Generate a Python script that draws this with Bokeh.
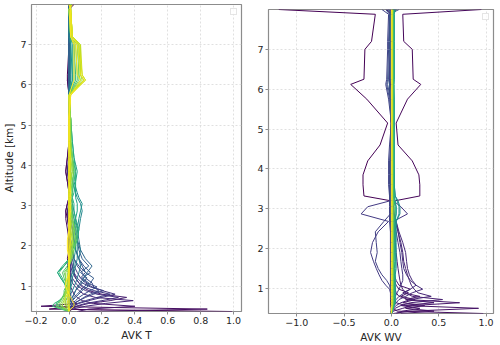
from bokeh.plotting import figure
from bokeh.models import Range1d, FixedTicker, Legend, LegendItem, CustomJSTickFormatter
from bokeh.palettes import Viridis256
from bokeh.embed import file_html
from bokeh.resources import INLINE

# ---------------- data ----------------
alt_km = [0.37, 0.43, 0.50, 0.57, 0.64, 0.72, 0.80, 0.89, 0.98, 1.08,
          1.20, 1.34, 1.50, 1.68, 1.90, 2.15, 2.42, 2.68, 2.87, 3.05,
          3.20, 3.32, 3.60, 3.85, 4.20, 4.60, 5.15, 5.75, 6.12, 6.25,
          7.00, 7.20, 7.88, 8.00]
n_retrieval_levels = 60

# AVK T: one kernel per retrieval level (row), values at alt_km
t_row_level = [0, 2, 4, 5, 6, 8, 9, 10, 12, 13, 14, 16, 17, 18, 20, 24, 27, 30, 34, 37, 40, 43, 46, 48, 50, 52, 54, 56, 57, 58, 59]
avk_t_rows = [
    [0.99, -0.12, 0.04, 0.02, 0.01, 0.01, 0.00, 0.00, 0.00, 0.00, 0.00, 0.00, 0.00, -0.01, 0.00, 0.00, 0.00, -0.01, -0.02, -0.01, 0.00, 0.00, -0.01, -0.02, -0.01, 0.00, 0.00, 0.00, -0.01, -0.01, 0.00, 0.00, 0.00, 0.03],
    [0.06, 0.84, -0.17, 0.05, 0.02, 0.01, 0.01, 0.00, 0.00, 0.00, 0.00, 0.00, -0.01, 0.00, 0.00, 0.00, -0.01, -0.02, -0.02, -0.01, 0.00, 0.00, -0.01, -0.02, -0.01, 0.00, 0.00, 0.00, -0.01, 0.00, 0.00, 0.00, 0.00, 0.02],
    [0.05, 0.12, 0.40, 0.15, 0.08, 0.05, 0.03, 0.02, 0.01, 0.01, 0.01, 0.00, 0.00, 0.00, 0.00, 0.00, 0.00, -0.01, -0.01, 0.00, 0.00, 0.00, 0.00, -0.01, 0.00, 0.00, 0.00, 0.00, 0.00, 0.00, 0.00, 0.00, 0.01, 0.01],
    [0.00, 0.01, 0.05, 0.12, 0.25, 0.35, 0.20, 0.12, 0.08, 0.06, 0.04, 0.03, 0.02, 0.01, 0.00, 0.00, 0.00, 0.00, 0.00, 0.00, 0.00, 0.00, 0.00, 0.00, 0.00, 0.00, 0.00, 0.00, 0.00, 0.00, 0.00, 0.00, 0.00, 0.01],
    [0.00, 0.02, 0.10, 0.22, 0.39, 0.16, 0.09, 0.06, 0.04, 0.02, 0.01, 0.01, 0.00, 0.00, 0.00, 0.00, 0.00, 0.00, -0.01, 0.00, 0.00, 0.00, 0.00, -0.01, 0.00, 0.00, 0.00, 0.00, 0.00, 0.00, 0.00, 0.00, 0.00, 0.01],
    [0.00, 0.01, 0.04, 0.10, 0.20, 0.30, 0.17, 0.10, 0.06, 0.04, 0.02, 0.01, 0.01, 0.00, 0.00, 0.00, 0.00, 0.00, 0.00, 0.00, 0.00, 0.00, 0.00, -0.01, 0.00, 0.00, 0.00, 0.00, 0.00, 0.00, 0.00, 0.00, 0.00, 0.01],
    [0.00, 0.00, 0.02, 0.06, 0.12, 0.20, 0.28, 0.20, 0.14, 0.10, 0.07, 0.05, 0.03, 0.02, 0.01, 0.00, 0.00, 0.00, 0.00, 0.00, 0.00, 0.00, 0.00, 0.00, 0.00, 0.00, 0.00, 0.00, 0.00, 0.00, 0.00, 0.00, 0.00, 0.00],
    [0.00, 0.00, 0.02, 0.05, 0.10, 0.17, 0.25, 0.15, 0.09, 0.06, 0.04, 0.02, 0.01, 0.01, 0.00, 0.00, 0.00, 0.00, 0.00, 0.00, 0.00, 0.00, 0.00, 0.00, 0.00, 0.00, 0.00, 0.00, 0.00, 0.00, 0.00, 0.00, 0.00, 0.00],
    [0.00, 0.00, 0.01, 0.03, 0.06, 0.10, 0.15, 0.21, 0.13, 0.08, 0.05, 0.03, 0.02, 0.01, 0.01, 0.00, 0.00, 0.00, 0.00, 0.00, 0.00, 0.00, 0.00, 0.00, 0.00, 0.00, 0.00, 0.00, 0.00, 0.00, 0.00, 0.00, 0.00, 0.00],
    [0.00, 0.00, 0.01, 0.03, 0.06, 0.09, 0.13, 0.18, 0.15, 0.14, 0.10, 0.08, 0.05, 0.03, 0.02, 0.01, 0.00, 0.00, 0.00, 0.00, 0.00, 0.00, 0.00, 0.00, 0.00, 0.00, 0.00, 0.00, 0.00, 0.00, 0.00, 0.00, 0.00, 0.00],
    [0.00, 0.00, 0.00, 0.02, 0.04, 0.06, 0.09, 0.13, 0.17, 0.11, 0.07, 0.10, 0.06, 0.03, 0.02, 0.01, 0.01, 0.00, 0.00, 0.00, 0.00, 0.00, 0.00, 0.00, 0.00, 0.00, 0.00, 0.00, 0.00, 0.00, 0.00, 0.00, 0.00, 0.00],
    [0.00, 0.00, 0.00, 0.01, 0.02, 0.03, 0.05, 0.07, 0.09, 0.12, 0.08, 0.13, 0.09, 0.06, 0.04, 0.03, 0.02, 0.01, 0.01, 0.00, 0.00, 0.00, 0.00, 0.00, 0.00, 0.00, 0.00, 0.00, 0.00, 0.00, 0.00, 0.00, 0.00, 0.00],
    [0.00, 0.00, 0.00, 0.01, 0.02, 0.04, 0.06, 0.08, 0.11, 0.13, 0.15, 0.10, 0.08, 0.06, 0.04, 0.03, 0.02, 0.01, 0.00, 0.00, 0.00, 0.00, 0.00, 0.00, 0.00, 0.00, 0.00, 0.00, 0.00, 0.00, 0.00, 0.00, 0.00, 0.00],
    [0.00, 0.00, 0.00, 0.00, 0.01, 0.02, 0.03, 0.04, 0.06, 0.08, 0.11, 0.07, 0.12, 0.08, 0.06, 0.05, 0.04, 0.03, 0.02, 0.01, 0.01, 0.00, 0.00, 0.00, 0.00, 0.00, 0.00, 0.00, 0.00, 0.00, 0.00, 0.00, 0.00, 0.00],
    [0.00, 0.00, 0.00, 0.00, 0.01, 0.02, 0.03, 0.04, 0.05, 0.07, 0.09, 0.11, 0.14, 0.10, 0.07, 0.05, 0.03, 0.02, 0.01, 0.00, 0.00, 0.00, 0.00, 0.00, 0.00, 0.00, 0.00, 0.00, 0.00, 0.00, 0.00, 0.00, 0.00, 0.00],
    [0.00, 0.00, 0.00, 0.00, 0.00, 0.01, 0.01, 0.02, 0.03, 0.04, 0.05, 0.06, 0.07, 0.06, 0.07, 0.06, 0.05, 0.04, 0.03, 0.02, 0.01, 0.01, 0.01, 0.00, 0.00, 0.00, 0.00, 0.00, 0.01, 0.01, 0.01, 0.00, 0.00, 0.01],
    [0.00, 0.00, 0.00, 0.00, 0.00, 0.00, 0.00, 0.01, 0.01, 0.02, 0.02, 0.03, 0.04, 0.05, 0.05, 0.05, 0.06, 0.07, 0.08, 0.07, 0.05, 0.04, 0.02, 0.01, 0.01, 0.00, 0.00, 0.00, 0.01, 0.01, 0.01, 0.00, 0.00, 0.01],
    [0.00, 0.00, 0.00, 0.00, 0.00, 0.00, 0.00, 0.00, 0.01, 0.01, 0.01, 0.02, 0.03, 0.03, 0.04, 0.04, 0.05, 0.06, 0.07, 0.08, 0.06, 0.05, 0.03, 0.03, 0.02, 0.01, 0.01, 0.00, 0.02, 0.02, 0.01, 0.01, 0.00, 0.01],
    [0.00, 0.00, -0.01, -0.02, -0.02, -0.01, 0.00, 0.00, -0.01, -0.03, -0.05, -0.07, -0.03, 0.01, 0.02, 0.03, 0.03, 0.04, 0.05, 0.05, 0.04, 0.04, 0.04, 0.05, 0.03, 0.02, 0.01, 0.00, 0.02, 0.02, 0.02, 0.01, 0.00, 0.01],
    [0.00, -0.02, -0.05, -0.08, -0.06, -0.04, -0.02, -0.01, -0.01, -0.03, -0.05, -0.07, -0.04, 0.00, 0.02, 0.05, 0.06, 0.04, 0.03, 0.03, 0.02, 0.03, 0.04, 0.04, 0.03, 0.02, 0.01, 0.00, 0.03, 0.03, 0.03, 0.01, 0.00, 0.01],
    [0.00, -0.05, -0.10, -0.09, -0.06, -0.04, -0.03, -0.02, -0.02, -0.03, -0.04, -0.06, -0.03, 0.00, 0.02, 0.04, 0.05, 0.03, 0.02, 0.02, 0.02, 0.02, 0.03, 0.04, 0.02, 0.01, 0.01, 0.00, 0.04, 0.04, 0.03, 0.01, 0.00, 0.01],
    [0.00, -0.04, -0.08, -0.07, -0.05, -0.04, -0.03, -0.03, -0.02, -0.02, -0.03, -0.04, -0.01, 0.01, 0.03, 0.05, 0.04, 0.02, 0.02, 0.01, 0.01, 0.02, 0.02, 0.03, 0.02, 0.01, 0.01, 0.00, 0.05, 0.05, 0.04, 0.01, 0.00, 0.01],
    [0.00, -0.03, -0.07, -0.06, -0.05, -0.04, -0.03, -0.02, -0.02, -0.02, -0.02, -0.03, 0.00, 0.02, 0.03, 0.04, 0.03, 0.02, 0.01, 0.01, 0.01, 0.01, 0.02, 0.03, 0.02, 0.01, 0.01, 0.00, 0.06, 0.06, 0.05, 0.01, 0.00, 0.01],
    [0.00, -0.02, -0.05, -0.05, -0.04, -0.03, -0.03, -0.02, -0.02, -0.02, -0.02, -0.02, 0.00, 0.01, 0.02, 0.03, 0.03, 0.02, 0.01, 0.01, 0.01, 0.01, 0.01, 0.02, 0.02, 0.01, 0.01, 0.00, 0.07, 0.06, 0.06, 0.02, 0.01, 0.01],
    [0.00, -0.01, -0.04, -0.04, -0.03, -0.03, -0.02, -0.02, -0.01, -0.01, -0.01, -0.01, 0.00, 0.01, 0.02, 0.02, 0.02, 0.01, 0.01, 0.01, 0.01, 0.01, 0.01, 0.02, 0.01, 0.01, 0.01, 0.00, 0.08, 0.07, 0.06, 0.02, 0.01, 0.01],
    [0.00, 0.00, -0.02, -0.03, -0.03, -0.02, -0.02, -0.01, -0.01, -0.01, -0.01, 0.00, 0.00, 0.01, 0.01, 0.02, 0.01, 0.01, 0.01, 0.00, 0.00, 0.01, 0.01, 0.01, 0.01, 0.01, 0.00, 0.00, 0.09, 0.07, 0.07, 0.02, 0.01, 0.01],
    [0.00, 0.00, -0.01, -0.02, -0.02, -0.02, -0.01, -0.01, -0.01, 0.00, 0.00, 0.00, 0.00, 0.00, 0.01, 0.01, 0.01, 0.01, 0.00, 0.00, 0.00, 0.00, 0.01, 0.01, 0.01, 0.00, 0.00, 0.00, 0.10, 0.08, 0.07, 0.02, 0.01, 0.01],
    [0.00, 0.00, 0.00, -0.01, -0.01, -0.01, -0.01, 0.00, 0.00, 0.00, 0.00, 0.00, 0.00, 0.00, 0.00, 0.01, 0.00, 0.00, 0.00, 0.00, 0.00, 0.00, 0.00, 0.00, 0.01, 0.00, 0.00, 0.01, 0.10, 0.08, 0.06, 0.02, 0.01, 0.00],
    [0.00, 0.00, 0.00, 0.00, 0.00, 0.00, 0.00, 0.00, 0.00, 0.00, 0.00, 0.00, 0.00, 0.00, 0.00, 0.00, 0.00, 0.00, 0.00, 0.00, 0.00, 0.00, 0.00, 0.00, 0.00, 0.00, 0.00, 0.01, 0.09, 0.07, 0.05, 0.02, 0.01, 0.00],
    [0.00, 0.00, 0.00, 0.00, 0.00, 0.00, 0.00, 0.00, 0.00, 0.00, 0.00, 0.00, 0.00, 0.00, 0.00, 0.00, 0.00, 0.00, 0.00, 0.00, 0.00, 0.00, 0.00, 0.00, 0.00, 0.00, 0.00, 0.01, 0.07, 0.05, 0.04, 0.01, 0.01, 0.00],
    [0.00, 0.01, 0.03, 0.03, 0.02, 0.01, 0.00, -0.01, -0.02, -0.02, -0.01, 0.00, 0.00, 0.00, -0.01, -0.01, 0.00, 0.00, 0.01, 0.01, 0.01, 0.01, 0.00, 0.00, 0.00, 0.00, 0.00, 0.00, 0.03, 0.03, 0.03, 0.01, 0.00, 0.02],
]

# AVK WV
wv_row_level = [0, 1, 2, 3, 3, 4, 4, 5, 6, 7, 8, 9, 10, 11, 12, 13, 15, 18, 22, 26, 30, 34, 38, 42, 46, 50, 55, 59]
avk_wv_rows = [
    [0.00, 0.00, 0.00, -0.01, -0.01, -0.01, -0.01, -0.01, -0.01, -0.01, -0.01, -0.01, -0.01, -0.01, -0.01, -0.01, -0.01, -0.01, -0.01, -0.01, -0.01, -0.29, -0.30, -0.30, -0.25, -0.12, -0.04, -0.26, -0.43, -0.29, -0.28, -0.21, -0.17, -1.19],
    [0.00, 0.00, 0.01, 0.01, 0.01, 0.01, 0.01, 0.01, 0.01, 0.01, 0.01, 0.01, 0.01, 0.01, 0.01, 0.01, 0.01, 0.01, 0.01, 0.02, 0.04, 0.30, 0.30, 0.29, 0.22, 0.07, 0.05, 0.17, 0.31, 0.23, 0.22, 0.13, 0.12, 0.95],
    [0.97, 0.06, 0.02, 0.01, 0.00, 0.00, 0.00, 0.00, 0.00, 0.00, 0.00, 0.00, 0.00, 0.00, 0.00, 0.00, 0.00, 0.00, 0.00, 0.00, 0.00, 0.00, 0.00, 0.00, 0.00, 0.00, 0.00, -0.01, -0.02, -0.02, -0.01, -0.01, -0.01, -0.05],
    [0.02, 0.20, 0.92, 0.15, 0.05, 0.03, 0.02, 0.01, 0.01, 0.00, 0.00, 0.00, 0.00, 0.00, 0.00, 0.00, 0.00, 0.00, 0.00, 0.00, 0.00, 0.00, 0.00, 0.00, 0.00, 0.00, 0.00, -0.01, -0.02, -0.02, -0.01, -0.01, -0.01, 0.04],
    [0.10, 0.45, 0.15, 0.35, 0.12, 0.25, 0.10, 0.18, 0.08, 0.05, 0.03, 0.02, 0.01, 0.00, 0.00, 0.00, 0.00, 0.00, 0.00, 0.00, 0.00, 0.00, 0.00, 0.00, 0.00, 0.00, 0.00, -0.01, -0.01, -0.01, 0.00, 0.00, 0.00, 0.01],
    [0.00, 0.02, 0.12, 0.22, 0.72, 0.18, 0.08, 0.05, 0.04, 0.03, 0.02, 0.01, 0.01, 0.00, 0.00, 0.00, 0.00, 0.00, 0.00, 0.00, 0.00, 0.00, 0.00, 0.00, 0.00, 0.00, 0.00, -0.01, -0.01, -0.01, 0.00, 0.00, 0.00, 0.02],
    [0.05, 0.12, 0.30, 0.10, 0.45, 0.15, 0.30, 0.12, 0.20, 0.08, 0.05, 0.03, 0.02, 0.01, 0.00, 0.00, 0.00, 0.00, 0.00, 0.00, 0.00, 0.00, 0.00, 0.00, 0.00, 0.00, 0.00, -0.01, -0.01, -0.01, 0.00, 0.00, 0.00, -0.01],
    [0.00, 0.01, 0.04, 0.10, 0.20, 0.54, 0.22, 0.15, 0.12, 0.10, 0.09, 0.08, 0.07, 0.06, 0.05, 0.04, 0.03, 0.02, 0.01, 0.00, 0.00, 0.00, 0.00, 0.00, 0.00, 0.00, 0.00, -0.01, -0.01, -0.01, 0.00, 0.00, 0.00, -0.03],
    [0.00, 0.00, 0.02, 0.05, 0.10, 0.20, 0.42, 0.28, 0.24, 0.21, 0.19, 0.17, 0.15, 0.13, 0.12, 0.10, 0.07, 0.04, 0.02, 0.01, 0.00, 0.00, 0.00, 0.00, 0.00, 0.00, 0.00, -0.01, -0.01, -0.01, 0.00, 0.00, 0.00, 0.05],
    [0.00, 0.00, 0.01, 0.03, 0.05, 0.08, 0.15, 0.22, 0.33, 0.26, 0.22, 0.19, 0.17, 0.16, 0.15, 0.12, 0.08, 0.05, 0.03, 0.01, 0.00, 0.00, 0.00, 0.00, 0.00, 0.00, 0.00, -0.01, -0.01, -0.01, 0.00, 0.00, 0.00, -0.02],
    [0.00, 0.00, 0.01, 0.02, 0.03, 0.05, 0.08, 0.14, 0.20, 0.26, 0.20, 0.16, 0.13, 0.12, 0.11, 0.09, 0.07, 0.05, 0.03, 0.02, 0.01, 0.00, 0.00, 0.00, 0.00, 0.00, 0.00, -0.01, -0.01, -0.01, 0.00, 0.00, 0.00, 0.03],
    [0.00, 0.00, 0.00, 0.01, 0.02, 0.03, 0.04, 0.06, 0.08, 0.10, 0.12, 0.12, 0.11, 0.10, 0.09, 0.07, 0.05, 0.02, 0.17, 0.10, 0.02, 0.01, 0.01, 0.01, 0.01, 0.01, 0.01, 0.00, 0.00, 0.00, 0.01, 0.01, 0.01, 0.02],
    [0.00, 0.00, 0.00, 0.00, 0.00, 0.00, 0.00, -0.01, -0.02, -0.06, -0.10, -0.13, -0.16, -0.19, -0.22, -0.20, -0.14, -0.03, -0.32, -0.25, -0.01, -0.01, -0.01, -0.01, -0.01, -0.01, 0.00, -0.01, -0.02, -0.02, -0.01, -0.01, -0.01, -0.04],
    [0.00, 0.00, 0.00, 0.00, 0.00, 0.00, 0.00, 0.00, -0.01, -0.02, -0.05, -0.10, -0.14, -0.17, -0.15, -0.16, -0.17, -0.08, -0.01, -0.01, -0.01, -0.01, -0.01, -0.01, -0.01, -0.01, 0.00, -0.01, -0.02, -0.02, -0.01, -0.01, -0.01, 0.03],
    [0.00, 0.00, 0.00, 0.00, 0.00, 0.00, -0.01, -0.01, -0.01, -0.01, -0.01, -0.01, -0.01, -0.01, -0.01, -0.01, -0.01, -0.02, -0.02, -0.02, -0.02, -0.02, -0.03, -0.03, -0.03, -0.02, 0.00, -0.03, -0.06, -0.05, -0.04, -0.04, -0.03, -0.10],
    [0.00, 0.00, 0.00, 0.00, 0.00, 0.00, 0.00, 0.00, -0.01, -0.01, -0.01, -0.01, -0.01, -0.01, -0.01, -0.01, -0.01, -0.01, -0.01, -0.01, -0.01, -0.02, -0.02, -0.02, -0.02, -0.01, 0.00, -0.02, -0.05, -0.04, -0.03, -0.03, -0.02, 0.08],
    [0.00, 0.00, 0.00, 0.00, 0.00, 0.00, 0.00, 0.00, 0.00, 0.00, 0.00, 0.00, 0.00, 0.00, 0.00, 0.00, 0.00, 0.00, -0.01, -0.01, -0.01, -0.01, -0.01, -0.01, -0.01, 0.00, 0.00, -0.01, -0.04, -0.03, -0.02, -0.02, -0.02, -0.06],
    [0.00, 0.00, 0.01, 0.01, 0.01, 0.01, 0.01, 0.01, 0.01, 0.01, 0.01, 0.01, 0.01, 0.01, 0.01, 0.01, 0.01, 0.01, 0.01, 0.01, 0.01, 0.01, 0.00, 0.00, 0.00, 0.00, 0.00, 0.00, -0.02, -0.01, -0.01, -0.01, -0.01, 0.02],
    [0.00, 0.00, 0.01, 0.01, 0.02, 0.02, 0.02, 0.02, 0.02, 0.02, 0.02, 0.02, 0.02, 0.02, 0.03, 0.03, 0.03, 0.03, 0.05, 0.05, 0.03, 0.02, 0.02, 0.02, 0.01, 0.01, 0.01, 0.01, 0.00, 0.00, 0.01, 0.01, 0.01, -0.03],
    [0.00, 0.00, 0.01, 0.02, 0.03, 0.03, 0.03, 0.03, 0.03, 0.03, 0.03, 0.03, 0.03, 0.04, 0.04, 0.04, 0.04, 0.05, 0.09, 0.09, 0.07, 0.04, 0.03, 0.03, 0.02, 0.02, 0.02, 0.02, 0.01, 0.02, 0.02, 0.02, 0.02, 0.05],
    [0.00, 0.01, 0.02, 0.03, 0.04, 0.04, 0.04, 0.04, 0.04, 0.04, 0.04, 0.04, 0.05, 0.05, 0.05, 0.05, 0.05, 0.05, 0.08, 0.08, 0.06, 0.04, 0.03, 0.03, 0.03, 0.03, 0.03, 0.03, 0.02, 0.03, 0.03, 0.03, 0.03, 0.01],
    [0.00, 0.01, 0.02, 0.03, 0.04, 0.04, 0.04, 0.04, 0.04, 0.04, 0.04, 0.04, 0.04, 0.04, 0.04, 0.04, 0.04, 0.04, 0.05, 0.05, 0.04, 0.03, 0.03, 0.03, 0.03, 0.03, 0.03, 0.03, 0.03, 0.03, 0.03, 0.03, 0.03, 0.04],
    [0.00, 0.01, 0.02, 0.02, 0.03, 0.03, 0.03, 0.03, 0.03, 0.03, 0.03, 0.03, 0.03, 0.03, 0.03, 0.03, 0.03, 0.03, 0.04, 0.04, 0.03, 0.03, 0.02, 0.02, 0.02, 0.02, 0.02, 0.02, 0.02, 0.02, 0.02, 0.02, 0.02, 0.03],
    [0.00, 0.01, 0.01, 0.02, 0.02, 0.02, 0.02, 0.02, 0.02, 0.02, 0.02, 0.02, 0.02, 0.02, 0.02, 0.02, 0.02, 0.02, 0.03, 0.03, 0.02, 0.02, 0.02, 0.02, 0.02, 0.02, 0.02, 0.02, 0.02, 0.02, 0.02, 0.02, 0.02, 0.02],
    [0.00, 0.00, 0.01, 0.01, 0.02, 0.02, 0.02, 0.02, 0.02, 0.02, 0.02, 0.02, 0.02, 0.02, 0.02, 0.02, 0.02, 0.02, 0.02, 0.02, 0.02, 0.01, 0.01, 0.01, 0.01, 0.01, 0.01, 0.01, 0.01, 0.01, 0.01, 0.01, 0.01, 0.02],
    [0.00, 0.00, 0.01, 0.01, 0.01, 0.01, 0.01, 0.01, 0.01, 0.01, 0.01, 0.01, 0.01, 0.01, 0.01, 0.01, 0.01, 0.01, 0.01, 0.01, 0.01, 0.01, 0.01, 0.01, 0.01, 0.01, 0.01, 0.01, 0.01, 0.01, 0.01, 0.01, 0.01, 0.01],
    [0.00, 0.00, 0.00, 0.01, 0.01, 0.01, 0.01, 0.01, 0.01, 0.01, 0.01, 0.01, 0.01, 0.01, 0.01, 0.01, 0.01, 0.01, 0.01, 0.01, 0.01, 0.01, 0.01, 0.01, 0.01, 0.01, 0.01, 0.01, 0.01, 0.01, 0.01, 0.01, 0.01, 0.01],
    [0.00, 0.00, 0.00, 0.00, 0.00, 0.00, 0.00, 0.00, 0.00, 0.00, 0.00, 0.00, 0.00, 0.00, 0.00, 0.00, 0.00, 0.00, 0.00, 0.00, 0.00, 0.00, 0.00, 0.00, 0.00, 0.00, 0.00, 0.00, 0.00, 0.00, 0.00, 0.00, 0.00, 0.00],
]

x_ticks_t = [-0.2, 0.0, 0.2, 0.4, 0.6, 0.8, 1.0]
x_ticks_wv = [-1.0, -0.5, 0.0, 0.5, 1.0]
y_ticks = [1, 2, 3, 4, 5, 6, 7]

for r in avk_t_rows + avk_wv_rows:
    assert len(r) == len(alt_km), len(r)
assert len(t_row_level) == len(avk_t_rows)
assert len(wv_row_level) == len(avk_wv_rows)

# ---------------- style ----------------
FONT = "DejaVu Sans"
TXT = "#262626"
SPINE = "#8c8c8c"


def padded_range(rows, frac=0.05):
    lo = min(min(r) for r in rows)
    hi = max(max(r) for r in rows)
    pad = (hi - lo) * frac
    return lo - pad, hi + pad


def make_panel(rows, levels, xticks, xlabel, ylabel, width, height, borders, left_px):
    bl, br, bt, bb = borders
    x_lo, x_hi = padded_range(rows)
    p = figure(width=width, height=height,
               x_range=Range1d(x_lo, x_hi), y_range=Range1d(alt_km[0], alt_km[-1]),
               output_backend="svg", toolbar_location=None,
               min_border_left=bl, min_border_right=br,
               min_border_top=bt, min_border_bottom=bb,
               styles={"position": "absolute", "left": f"{left_px}px", "top": "0px"})
    p.background_fill_color = "white"
    p.border_fill_color = "white"
    p.outline_line_color = SPINE
    p.outline_line_width = 1.2

    for vals, lev in zip(rows, levels):
        col = Viridis256[round(255 * lev / (n_retrieval_levels - 1))]
        p.line(vals, alt_km, line_color=col, line_width=1.0)

    p.xaxis.ticker = FixedTicker(ticks=xticks)
    p.xaxis.formatter = CustomJSTickFormatter(code="return tick.toFixed(1).replace('-', '\u2212');")
    p.yaxis.ticker = FixedTicker(ticks=y_ticks)
    for ax in (p.xaxis[0], p.yaxis[0]):
        ax.axis_line_color = None
        ax.major_tick_out = 3
        ax.major_tick_in = 0
        ax.minor_tick_out = 0
        ax.minor_tick_in = 0
        ax.major_tick_line_color = SPINE
        ax.major_label_text_font = FONT
        ax.major_label_text_font_size = "9.5px"
        ax.major_label_text_color = TXT
        ax.major_label_standoff = 2
        ax.axis_label_text_font = FONT
        ax.axis_label_text_font_size = "10.5px"
        ax.axis_label_text_font_style = "normal"
        ax.axis_label_text_color = TXT
        ax.axis_label_standoff = 2
    p.xaxis.axis_label = xlabel
    if ylabel:
        p.yaxis.axis_label = ylabel

    p.grid.grid_line_color = "#d8d8d8"
    p.grid.grid_line_dash = "2 2"
    p.grid.grid_line_width = 0.8

    dummy = p.line(x=[], y=[], line_alpha=0)
    leg = Legend(items=[LegendItem(label="", renderers=[dummy])], location="top_right")
    leg.glyph_width = 1
    leg.glyph_height = 1
    leg.label_standoff = 0
    leg.label_width = 0
    leg.label_height = 0
    leg.label_text_font_size = "1px"
    leg.padding = 2
    leg.spacing = 0
    leg.margin = 4
    leg.border_line_color = "#cccccc"
    leg.border_line_width = 0.8
    leg.background_fill_color = "white"
    leg.background_fill_alpha = 0.8
    p.add_layout(leg)
    return p


p_t = make_panel(avk_t_rows, t_row_level, x_ticks_t, "AVK T", "Altitude [km]",
                 254, 345, (27, 13, 4, 34), 0)
p_wv = make_panel(avk_wv_rows, wv_row_level, x_ticks_wv, "AVK WV", None,
                  246, 345, (13, 7, 9, 30), 254)

open("out.html", "w").write(file_html([p_t, p_wv], INLINE))
